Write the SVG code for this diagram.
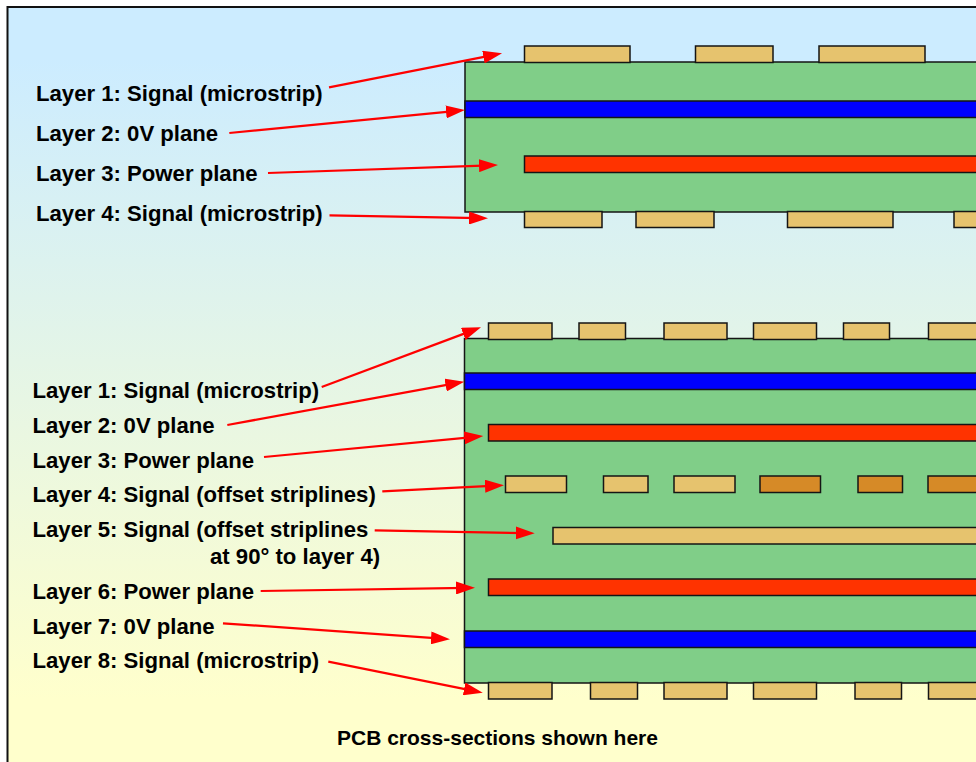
<svg xmlns="http://www.w3.org/2000/svg" width="976" height="762" viewBox="0 0 976 762">
<style>
.bd{stroke:#151515;stroke-width:1.5}
.board{fill:#80CE88}
.cu{fill:#E6C36E}
.cu2{fill:#D68A27}
.pwr{fill:#FF3300}
.gnd{fill:#0000FF}
.lb{font-family:"Liberation Sans",Arial,sans-serif;font-weight:bold;font-size:22.15px;fill:#000}
.cap{font-size:21px}
.ar{fill:none;stroke:#FF0000;stroke-width:2.25;marker-end:url(#head)}
</style>
<defs>
<linearGradient id="bg" gradientUnits="userSpaceOnUse" x1="0" y1="60" x2="0" y2="700">
<stop offset="0" stop-color="#CCECFF"/><stop offset="1" stop-color="#FFFFCC"/>
</linearGradient>
<marker id="head" markerUnits="userSpaceOnUse" markerWidth="19" markerHeight="13" refX="11" refY="6.5" orient="auto"><polygon points="0,0 19,6.5 0,13" fill="#FF0000"/></marker>
</defs>
<rect width="976" height="762" fill="#fff"/>
<rect id="frame" x="7.5" y="7" width="1000" height="790" fill="url(#bg)" stroke="#111" stroke-width="2"/>
<g id="board-4-layer">
<rect class="board bd" x="465" y="62" width="530" height="150"/>
<rect class="gnd bd" x="465" y="101" width="530" height="16.5"/>
<rect class="pwr bd" x="524.5" y="156" width="470" height="16.5"/>
<g class="cu bd">
<rect x="524.5" y="46" width="105.5" height="16.5"/><rect x="695.5" y="46" width="77.5" height="16.5"/><rect x="819" y="46" width="106" height="16.5"/>
<rect x="524.5" y="211.5" width="77.5" height="16"/><rect x="636" y="211.5" width="78" height="16"/><rect x="787.5" y="211.5" width="105.5" height="16"/><rect x="954" y="211.5" width="40" height="16"/>
</g>
</g>
<g id="board-8-layer">
<rect class="board bd" x="464.5" y="338.5" width="530" height="344.5"/>
<rect class="gnd bd" x="464.5" y="373" width="530" height="16.5"/>
<rect class="pwr bd" x="488.5" y="424.5" width="500" height="16.5"/>
<g class="cu bd">
<rect x="488.5" y="323" width="63.5" height="16.5"/><rect x="579" y="323" width="46.5" height="16.5"/><rect x="664" y="323" width="63" height="16.5"/><rect x="753.5" y="323" width="63" height="16.5"/><rect x="843.5" y="323" width="46" height="16.5"/><rect x="928.5" y="323" width="60" height="16.5"/>
<rect x="505.5" y="476" width="61" height="16.5"/><rect x="603.5" y="476" width="44.5" height="16.5"/><rect x="674" y="476" width="61" height="16.5"/>
<rect x="553" y="527.5" width="440" height="16.5"/>
<rect x="488.5" y="682.5" width="63.5" height="16.5"/><rect x="590.5" y="682.5" width="47" height="16.5"/><rect x="664" y="682.5" width="63" height="16.5"/><rect x="753.5" y="682.5" width="63" height="16.5"/><rect x="855" y="682.5" width="46.5" height="16.5"/><rect x="928.5" y="682.5" width="60" height="16.5"/>
</g>
<g class="cu2 bd">
<rect x="760" y="476" width="60.5" height="16.5"/><rect x="858" y="476" width="44.5" height="16.5"/><rect x="928" y="476" width="60" height="16.5"/>
</g>
<rect class="pwr bd" x="488.5" y="579" width="500" height="16.5"/>
<rect class="gnd bd" x="464.5" y="631" width="530" height="16.5"/>
</g>
<g id="connectors">
<line class="ar" x1="329" y1="87.3" x2="494.2" y2="54.9"/>
<line class="ar" x1="229.3" y1="133" x2="457" y2="110.8"/>
<line class="ar" x1="268" y1="173" x2="490" y2="165.3"/>
<line class="ar" x1="329.5" y1="215.3" x2="480" y2="218.2"/>
<line class="ar" x1="321.7" y1="387" x2="473.5" y2="330.1"/>
<line class="ar" x1="227.3" y1="425" x2="456.4" y2="383.1"/>
<line class="ar" x1="264" y1="457" x2="475.3" y2="436.8"/>
<line class="ar" x1="382.3" y1="491.3" x2="496" y2="485.7"/>
<line class="ar" x1="374.7" y1="530.3" x2="526.7" y2="533.2"/>
<line class="ar" x1="260.7" y1="591" x2="467" y2="587.8"/>
<line class="ar" x1="223" y1="623.3" x2="442" y2="638.7"/>
<line class="ar" x1="328.3" y1="661.7" x2="474.9" y2="691.1"/>
</g>
<g id="labels">
<text class="lb" x="36" y="100.5">Layer 1: Signal (microstrip)</text>
<text class="lb" x="36" y="140.5">Layer 2: 0V plane</text>
<text class="lb" x="36" y="180.5">Layer 3: Power plane</text>
<text class="lb" x="36" y="220.5">Layer 4: Signal (microstrip)</text>
<text class="lb" x="32.5" y="397.5">Layer 1: Signal (microstrip)</text>
<text class="lb" x="32.5" y="432.5">Layer 2: 0V plane</text>
<text class="lb" x="32.5" y="467.5">Layer 3: Power plane</text>
<text class="lb" x="32.5" y="502">Layer 4: Signal (offset striplines)</text>
<text class="lb" x="32.5" y="536.5">Layer 5: Signal (offset striplines</text>
<text class="lb" x="210" y="564">at 90° to layer 4)</text>
<text class="lb" x="32.5" y="598.5">Layer 6: Power plane</text>
<text class="lb" x="32.5" y="633.5">Layer 7: 0V plane</text>
<text class="lb" x="32.5" y="668">Layer 8: Signal (microstrip)</text>
<text class="lb cap" x="337" y="744.5">PCB cross-sections shown here</text>
</g>
</svg>
